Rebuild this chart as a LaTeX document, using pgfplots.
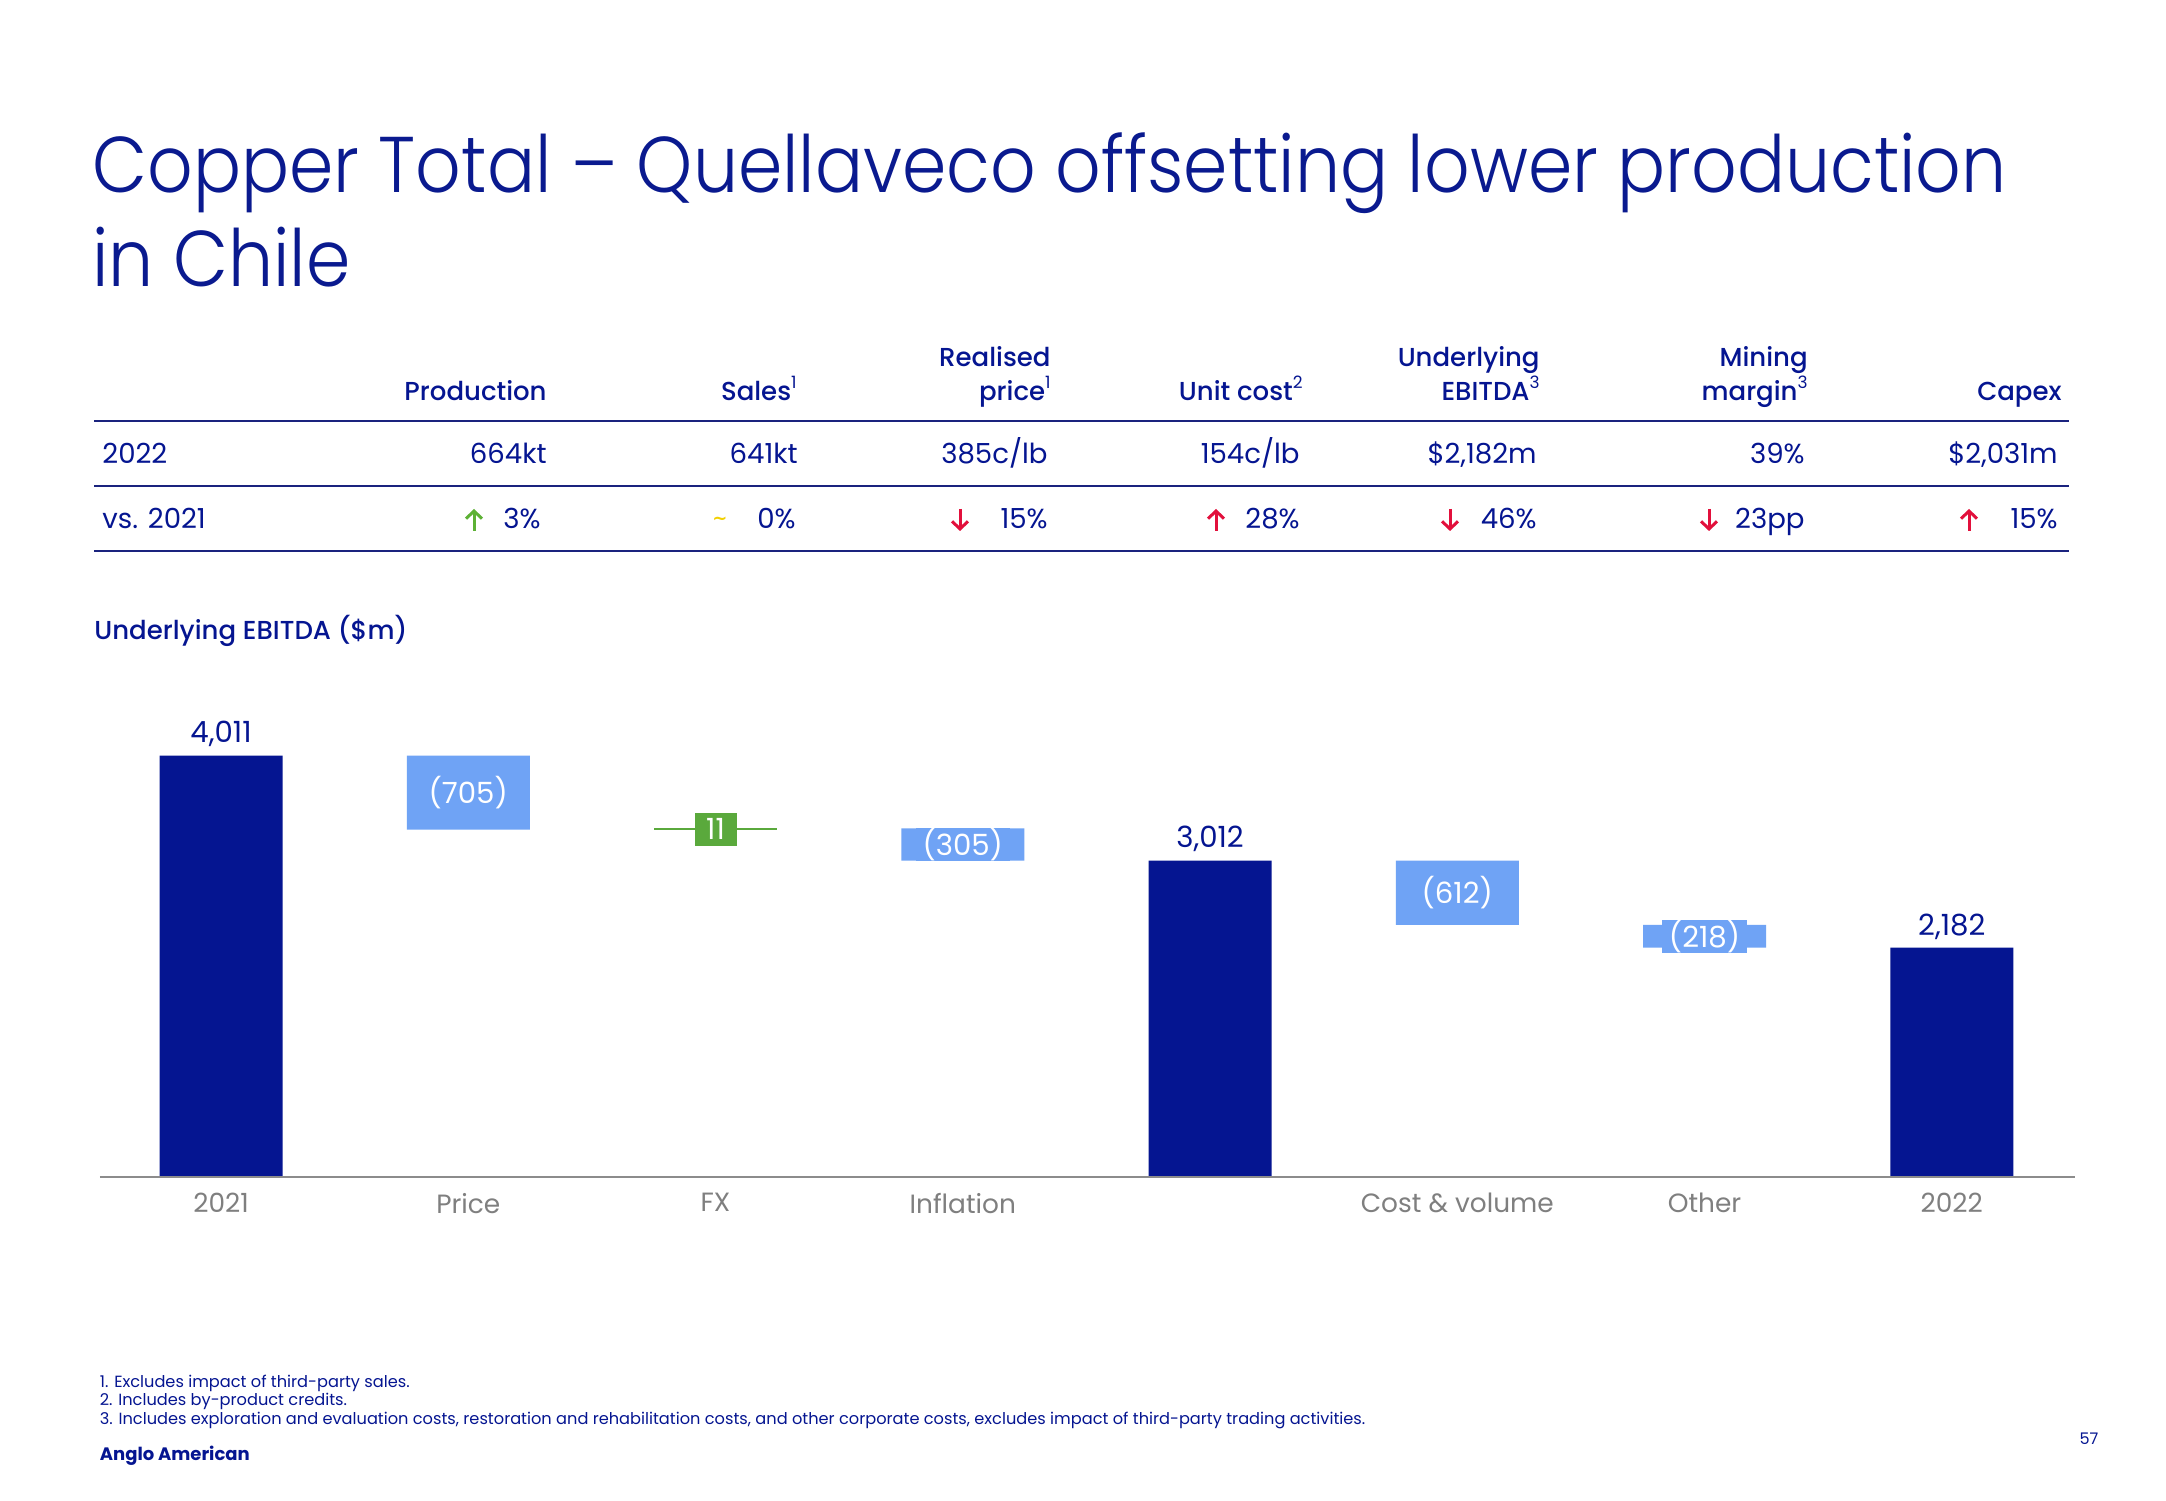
\documentclass[border=0pt]{standalone}
\usepackage{fontspec}
\setmainfont{Poppins}
\newfontfamily\medfont{Poppins Medium}
\newfontfamily\lightfont{Poppins Light}
\newfontfamily\symfont{DejaVu Sans}
\usepackage{pgfplots}
\pgfplotsset{compat=1.18}
\usetikzlibrary{arrows.meta}
\definecolor{navy}{HTML}{051591}
\definecolor{titleblue}{HTML}{0A1A8F}
\definecolor{lblue}{HTML}{6FA3F5}
\definecolor{fxgreen}{HTML}{5AA93C}
\definecolor{axgray}{HTML}{8C8C8C}
\definecolor{labgray}{HTML}{7F7F7F}
\definecolor{upgreen}{HTML}{5DB135}
\definecolor{downred}{HTML}{E2103C}
\definecolor{tildey}{HTML}{F2D000}
\definecolor{linenavy}{HTML}{1A237E}
\newcommand\tf{\fontsize{13.8}{16}\selectfont}
\newcommand\vf{\fontsize{14.6}{17}\selectfont}
\newcommand\cf{\fontsize{13.2}{16}\selectfont}
\newcommand\hf{\medfont\fontsize{13}{16}\selectfont}
\newcommand\sups[1]{\raisebox{0.45em}{\rmfamily\fontsize{8.5}{9}\selectfont #1}}
\begin{document}
\begin{tikzpicture}
\path[use as bounding box, fill=white] (0,0) rectangle (1083pt,750pt);
\begin{axis}[at={(48.7pt,161.5pt)}, anchor=south west, scale only axis,
  width=989pt, height=236.4pt, xmin=-0.5, xmax=7.5, ymin=0, ymax=4500,
  ybar stacked, bar width=61.5pt, axis line style={draw=none},
  major tick style={draw=none}, ytick=\empty, xtick={0,...,7},
  xticklabels={2021,Price,FX,Inflation,{},{Cost \& volume},Other,2022},
  xticklabel style={font=\cf, text=labgray, anchor=north, inner sep=0pt, yshift=-8pt},
  clip=false]
\addplot[draw=none, fill=none] coordinates {(0,0)(1,3306)(2,3306)(3,3012)(4,0)(5,2400)(6,2182)(7,0)};
\addplot[fill=navy, draw=none] coordinates {(0,4011)(1,0)(2,0)(3,0)(4,3012)(5,0)(6,0)(7,2182)};
\addplot[fill=lblue, draw=none] coordinates {(0,0)(1,705)(2,0)(3,305)(4,0)(5,612)(6,218)(7,0)};
\addplot[fill=fxgreen, draw=none] coordinates {(0,0)(1,0)(2,11)(3,0)(4,0)(5,0)(6,0)(7,0)};
\coordinate (ax0) at (axis cs:-0.49,0);
\coordinate (ax1) at (axis cs:7.5,0);
\coordinate (t0) at (axis cs:0,4011);
\coordinate (t4) at (axis cs:4,3012);
\coordinate (t7) at (axis cs:7,2182);
\coordinate (m1) at (axis cs:1,3658.5);
\coordinate (m2) at (axis cs:2,3311.5);
\coordinate (m3) at (axis cs:3,3164.5);
\coordinate (m5) at (axis cs:5,2706);
\coordinate (m6) at (axis cs:6,2291);
\end{axis}
\draw[axgray, line width=1.3pt] (ax0) -- (ax1);
\draw[fxgreen, line width=1.4pt] (m2) ++(-30.75pt,0) -- ++(61.5pt,0);
\begin{scope}[every node/.style={font=\vf}]
\node[text=navy, anchor=base, yshift=6.3pt] at (t0) {4,011};
\node[text=navy, anchor=base, yshift=6.3pt] at (t4) {3,012};
\node[text=navy, anchor=base, yshift=6.3pt] at (t7) {2,182};
\node[text=white, fill=lblue, inner xsep=3.5pt, inner ysep=0pt, minimum height=16pt] at (m1) {(705)};
\node[text=white, fill=lblue, inner xsep=3.5pt, inner ysep=0pt, minimum height=16pt] at (m3) {(305)};
\node[text=white, fill=lblue, inner xsep=3.5pt, inner ysep=0pt, minimum height=16pt] at (m5) {(612)};
\node[text=white, fill=lblue, inner xsep=3.5pt, inner ysep=0pt, minimum height=16pt] at (m6) {(218)};
\node[text=white, fill=fxgreen, inner sep=0pt, minimum width=21pt, minimum height=16.5pt] at (m2) {11};
\end{scope}
\begin{scope}[x=0.5pt, y=-0.5pt, shift={(0,750pt)}]
% title
\node[anchor=base west, inner sep=0pt, text=titleblue, font=\lightfont\fontsize{39.5}{48}\selectfont] at (92,193) {\scalebox{0.902}[1]{Copper Total – Quellaveco offsetting lower production}};
\node[anchor=base west, inner sep=0pt, text=titleblue, font=\lightfont\fontsize{39.5}{48}\selectfont] at (92,287) {\scalebox{0.902}[1]{in Chile}};
% table lines
\draw[linenavy, line width=1.4pt] (94,421) -- (2069,421);
\draw[linenavy, line width=0.7pt] (94,486) -- (2069,486);
\draw[linenavy, line width=0.7pt] (94,551) -- (2069,551);
% headers
\begin{scope}[every node/.style={anchor=base east, inner sep=0pt, text=navy, font=\hf}]
\node at (547,400.6) {Production};
\node at (797,400.6) {Sales\sups{1}};
\node at (1051,367) {Realised};
\node at (1051,400.6) {price\sups{1}};
\node at (1303,400.6) {Unit cost\sups{2}};
\node at (1540,367) {Underlying};
\node at (1540,400.6) {EBITDA\sups{3}};
\node at (1808,367) {Mining};
\node at (1808,400.6) {margin\sups{3}};
\node at (2062,400.6) {Capex};
\end{scope}
% rows
\begin{scope}[every node/.style={anchor=base east, inner sep=0pt, text=navy, font=\tf}]
\node[anchor=base west] at (102,464) {2022};
\node[anchor=base west] at (102,529) {vs. 2021};
\node at (547,464) {664kt};
\node at (798,464) {641kt};
\node at (1048,464) {385c/lb};
\node at (1300,464) {154c/lb};
\node at (1537,464) {\$2,182m};
\node at (1805,464) {39\%};
\node at (2058,464) {\$2,031m};
\node at (541,529) {3\%};
\node at (796,529) {0\%};
\node at (1048,529) {15\%};
\node at (1300,529) {28\%};
\node at (1537,529) {46\%};
\node at (1805,529) {23pp};
\node at (2058,529) {15\%};
\end{scope}
% arrows
\begin{scope}[line width=1.5pt]
\draw[upgreen, -{Straight Barb[length=3.8pt, width=8pt]}] (474,531) -- (474,509);
\draw[downred, -{Straight Barb[length=3.8pt, width=8pt]}] (960,509) -- (960,531);
\draw[downred, -{Straight Barb[length=3.8pt, width=8pt]}] (1216,531) -- (1216,509);
\draw[downred, -{Straight Barb[length=3.8pt, width=8pt]}] (1450,509) -- (1450,531);
\draw[downred, -{Straight Barb[length=3.8pt, width=8pt]}] (1709,509) -- (1709,531);
\draw[downred, -{Straight Barb[length=3.8pt, width=8pt]}] (1969,531) -- (1969,509);
\end{scope}
\node[text=tildey, font=\symfont\bfseries\fontsize{9}{9}\selectfont, inner sep=0pt] at (720,521) {\char"007E};
% section label
\node[anchor=base west, inner sep=0pt, text=navy, font=\hf] at (94,639.6) {Underlying EBITDA (\$m)};
% footnotes
\begin{scope}[every node/.style={anchor=base west, inner sep=0pt, text=navy, font=\fontsize{8.1}{9}\selectfont}]
\node at (99.5,1387) {1. Excludes impact of third-party sales.};
\node at (99.5,1405) {2. Includes by-product credits.};
\node at (99.5,1424) {3. Includes exploration and evaluation costs, restoration and rehabilitation costs, and other corporate costs, excludes impact of third-party trading activities.};
\end{scope}
\node[anchor=base west, inner sep=0pt, text=navy, font=\bfseries\fontsize{9}{10}\selectfont] at (99.5,1460) {Anglo American};
\node[inner sep=0pt, text=navy, font=\fontsize{8}{9}\selectfont] at (2089,1439) {57};
\end{scope}
\end{tikzpicture}
\end{document}
